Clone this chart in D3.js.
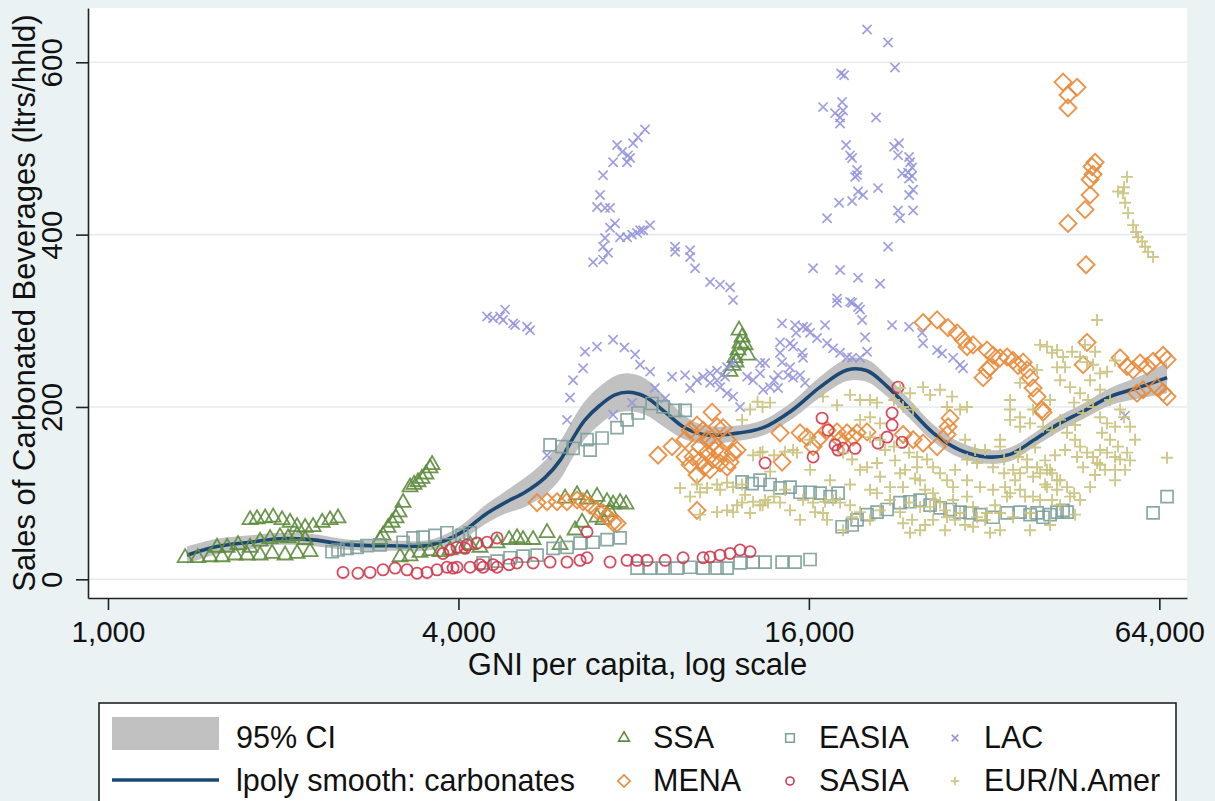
<!DOCTYPE html>
<html><head><meta charset="utf-8">
<script src="https://cdn.jsdelivr.net/npm/d3@7"></script>
<style>html,body{margin:0;padding:0;background:#eaf2f3;} svg{display:block;font-family:"Liberation Sans",Arial,Helvetica,sans-serif;}</style>
</head><body>
<svg id="chart" width="1215" height="801"></svg>
<script>
// ---------------- DATA ----------------
const xTicks = [1000, 4000, 16000, 64000];
const yTicks = [0, 200, 400, 600];
const xTitle = "GNI per capita, log scale";
const yTitle = "Sales of Carbonated Beverages (ltrs/hhld)";

const smoothGNI = [1367,1539,1754,1975,2224,2605,3052,3505,3794,4106,4444,4810,5206,5634,5980,6270,6600,7003,7430,7825,8370,9060,9730,10530,11860,13350,15030,16720,18610,20140,21800,23880,26150,29100,32380,35460,38860,42390,47350,52690,59300,66000];
const smoothFit = [28,38,43,47,46,40,39,39,45,57,75,89,101,118,138,162,185,202,214,217,212,194,177,168,169,176,197,223,243,242,224,197,170,150,142,145,161,178,195,212,223,234];
const ciHalf = [10,9,8,7,7,6,6,6,7,9,11,13,17,20,22,22,22,22,22,22,21,18,14,11,9,9,10,12,13,13,12,11,10,9,8,8,8,9,9,10,13,18];

const SSA = [
[1357,25],[1427,25],[1497,26],[1570,26],[1654,28],[1734,28],[1825,28],[1914,30],[2015,28],[2113,30],[2224,32],
[1539,37],[1602,37],[1673,40],[1754,37],[1825,44],[1899,47],[1975,49],[2039,48],[2113,51],[2181,46],
[1754,69],[1803,70],[1862,71],[1922,72],[1991,69],[2055,66],[2113,61],[2181,60],[2251,61],[2333,66],[2407,69],[2484,71],
[2933,46],[2968,51],[3028,60],[3076,66],[3125,71],[3162,78],[3213,89],[3303,107],[3356,110],[3409,113],[3463,117],[3518,122],[3575,129],[3604,133],
[3175,26],[3303,27],[3436,31],[3575,33],[3719,32],[3869,34],[4026,36],[4188,40],[4357,37],
[4660,42],[4886,46],[5043,48],[5165,46],[5374,46],[5679,54],[5979,40],[6344,57],[6523,66],
[6099,94],[6394,98],[6652,93],[6920,96],[7200,90],[7375,87],[7581,89],[7763,87],[6920,72],[7088,69],[7287,78],
[11714,241],[11855,248],[11948,257],[12089,266],[12187,274],[12285,281],[12138,289],[12431,272],[12577,260],[11995,252]
];
const MENA = [
[5459,89],[5679,90],[5908,90],[6146,90],[6394,92],[6549,90],[6733,86],[6920,80],[7088,77],[7228,72],[7375,66],[7491,65],
[8809,144],[9313,154],[9804,162],[10000,173],[10278,179],[10528,173],[10910,194],[11126,177],[11395,176],[10120,142],[10403,154],[10694,147],[10953,139],[11260,135],[11575,130],[11855,147],[12042,150],[10278,121],[10823,127],[10278,80],[9804,142],[10000,133],[10694,162],[10953,158],[11260,147],[10403,138],[11040,150],[11575,162],[11714,136],[10570,130],
[14276,170],[14390,136],[15451,170],[15884,165],[16268,154],[16590,162],[17191,173],[17885,171],[18607,170],[19358,170],[20139,171],[18100,162],[19057,165],
[23225,168],[24162,162],[25136,158],[26565,154],[27968,187],[27743,177],[27636,168],
[25136,298],[26565,301],[27743,292],[28751,286],[29445,278],[29910,270],[30633,272],[32374,266],[33155,260],[34084,257],[35039,258],[35886,254],[36595,248],[37334,252],[37924,243],[38379,234],[38840,222],[39455,212],[40247,197],[40407,194],[31870,234],[32374,243],[32762,246],
[43733,577],[46218,571],[44598,562],[44598,547],[49633,484],[49049,479],[49243,470],[48660,464],[48660,446],[47708,429],[44598,413],[47896,365],[48080,275],[47335,249],
[54792,257],[56326,247],[57687,243],[59303,251],[60964,247],[62436,253],[64955,260],[65982,255],[58600,216],[60015,220],[63423,223],[64955,217],[65982,212]
];
const EASIA = [
[2426,32],[2484,34],[2574,36],[2678,37],[2786,39],[2933,40],
[3213,43],[3343,48],[3477,49],[3646,51],[3823,54],[4058,51],[4188,54],
[4409,19],[4660,21],[4906,25],[5165,27],[5459,28],[5816,36],[6146,37],[6471,42],[6814,43],[7200,46],[7581,48],
[8108,13],[8536,13],[8988,13],[9498,13],[10000,14],[10530,13],[11126,13],[11575,13],[12187,19],[12831,20],[13454,20],[14390,20],[15149,20],[16075,23],
[5747,156],[6027,154],[6295,152],[6652,162],[6733,150],[7060,164],[7491,176],[7793,185],[8139,193],[8604,204],[8988,200],[9424,196],[9804,196],
[12285,113],[12780,111],[13190,115],[13722,110],[14276,106],[14852,107],[15451,101],[16075,101],[16723,100],[17398,96],[17955,100],
[18245,61],[18982,63],[19358,69],[20139,75],[20952,78],[21797,81],[22949,89],[23875,90],[24838,92],[25841,86],[26883,83],[27968,81],[29096,78],[30270,77],[31492,75],[33155,72],[35039,77],[36891,78],[38379,75],[39455,77],[40407,72],[41539,75],[42703,78],[43733,80],[44425,78],
[62436,77],[65982,96]
];
const SASIA = [
[2534,8],[2688,7],[2820,8],[2968,11],[3113,13],[3264,11],[3396,7],[3532,8],[3675,11],[3823,14],[3977,14],[4188,14],[4409,14],[4660,14],
[3763,30],[3869,34],[3977,37],[4139,40],[4305,42],[4479,43],[4660,48],[4106,36],
[3915,13],[4357,17],[4587,17],[4886,17],[5043,19],[5374,19],[5747,20],[6146,20],[6471,22],[6652,25],[7287,20],[7793,22],[8108,22],[8435,22],[9059,22],[9727,25],[10530,25],[10823,26],[11260,28],[11714,30],[12187,34],[12679,32],
[6652,55],[13454,135],[16268,142],[16857,187],[17258,173],[17746,156],[17955,150],[18318,152],[19207,152],[21033,158],[21797,165],[22235,179],[22235,193],[22765,223],[23133,159]
];
const LAC = [
[4479,305],[4587,303],[4716,305],[4810,313],[4773,301],[4965,297],[5004,295],[5247,293],[5310,289],
[8369,522],[8139,513],[7982,506],[7491,504],[7642,496],[7823,492],[7375,484],[7793,484],[7887,489],[7088,469],[7004,446],[6920,432],[7144,431],[7287,431],[7430,413],[7287,408],[7144,396],[7088,386],[7229,379],[7088,371],[6814,368],[7581,397],[7793,397],[7950,400],[8108,402],[8205,405],[8304,405],[8536,411],
[9424,386],[9424,380],[10000,382],[10000,374],[10200,361],[10823,345],[11260,342],[11714,339],[11855,324],
[6600,264],[6920,270],[7375,278],[7713,269],[8046,261],[8205,249],[8536,241],[6549,245],[6295,231],[6220,211],[6146,185],[5679,144],[7375,191],[7950,205],[8700,222],[9060,210],[9313,235],[9804,237],[10000,222],[10278,231],[10528,235],[10823,239],[11126,242],[11575,246],[11855,251],[10823,228],[11260,223],[11575,216],[11855,212],[12187,200],[12530,235],[12830,231],[13190,251],[11485,235],[11126,231],
[14390,297],[15149,295],[15636,293],[15884,292],[15210,286],[16075,286],[16525,280],[17058,295],[17191,274],[17607,268],[18100,263],[18607,258],[18982,257],[19590,257],[19747,301],[19590,313],[17885,321],[18982,321],[19982,281],[20139,264],[22235,295],[23780,293],[25037,286],[25136,274],[26565,266],[27098,262],[28303,257],[29096,249],[29445,245],
[14276,275],[14852,274],[15030,270],[15575,263],[15636,257],[14276,263],[14390,252],[14852,246],[14164,237],[14733,237],[15030,234],[15451,237],[13944,231],[13722,223],[14164,222],[13350,220],[13454,251],[13190,239],[15760,228],
[20139,638],[21882,623],[18172,587],[18390,585],[16924,548],[18245,554],[17746,541],[18100,536],[18100,529],[18318,544],[20870,536],[18534,504],[18831,492],[18982,489],[19358,475],[19358,469],[19207,467],[19436,450],[19822,446],[18028,437],[18982,439],[21033,454],[17191,419],[22490,594],[22857,506],[22414,502],[22765,492],[23780,490],[23875,484],[24066,478],[23685,472],[23133,471],[24066,468],[23780,465],[23780,446],[24162,452],[22765,428],[22949,419],[24162,428],[21882,386],[16268,361],[18100,359],[19436,350],[21203,343],[17885,326],[18831,322],[19436,316],
[55888,190]
];
const EUR = [
[9612,106],[10278,110],[10694,106],[11126,110],[11575,112],[11855,107],[12285,110],[12830,144],[13190,147],[12285,185],[12679,197],[13060,206],[11126,78],[11575,80],[12042,86],[12285,89],[12830,90],[13190,86],[13610,89],[11855,78],[12679,77],[10000,96],[10403,75],
[13320,148],[13944,144],[14560,148],[15030,150],[15267,147],[13454,92],[13944,96],[14276,89],[13320,86],[15636,92],[16268,89],[17058,90],[17607,92],[18100,89],[16924,77],[17191,69],[18318,57],[18982,72],
[16924,212],[17885,202],[18831,214],[19590,208],[20381,208],[20952,205],[22949,222],[23875,216],[25136,223],[25841,214],[26883,220],[28192,212],[27636,200],[29096,197],[29910,200],[22414,208],[23225,200],[24162,197],[19590,185],[20381,188],[21203,181],
[20381,165],[21203,162],[22414,154],[23780,147],[24545,142],[25530,139],[26150,130],[26883,123],[27636,115],[28303,107],[19590,127],[20952,135],[22949,123],[24545,130],[23225,107],[24838,115],[26150,100],
[23780,89],[24838,84],[25841,84],[26883,89],[28303,92],[29910,96],[30633,84],[31117,72],[32374,77],[29096,77],[27636,72],[26150,69],[24838,57],[23875,54],[23225,65],
[29910,139],[31117,135],[33155,130],[34630,139],[35886,127],[37924,130],[39928,123],[41539,127],[42703,115],[35460,185],[36891,177],[38840,197],[41040,270],[41870,263],[42703,246],
[29910,115],[31492,107],[33155,104],[35039,96],[36891,104],[38840,96],[41040,107],[41870,92],[13320,200],[13722,205],[18318,147],[18982,139],[20139,130],[21203,119],[22059,107],[20952,100],[30633,61],[32762,54],[34084,57],
[32122,150],[34084,154],[36891,148],[16075,162],
[50017,301],[42703,266],[43733,258],[45320,264],[46773,258],[48083,252],[49243,249],[50624,239],[52042,241],
[43215,231],[44959,223],[46773,216],[48270,208],[49243,200],[47335,193],[45680,205],
[35460,197],[36891,188],[38379,181],[40407,177],[41870,173],[44425,170],
[50624,188],[52042,181],[53726,177],[51020,170],[52666,162],[54353,154],[50624,150],[52042,147],[53726,142],[54792,139],[56326,147],[57003,177],[55660,188],
[46773,154],[48083,147],[49243,142],[50040,135],[46218,142],[47335,130],
[36595,142],[37924,139],[39455,130],[41040,127],[41870,123],[43215,115],[44425,107],[45680,100],[46773,92],[36891,123],[38840,119],[40731,110],[42703,104],[34630,123],[35460,100],[34084,77],[35886,72],[38379,77],
[65982,141],[39455,243],[36891,228],[35460,208],
[56326,467],[55660,455],[54353,450],[55440,448],[55888,437],[56550,425],[57687,411],[58370,403],[58830,397],[59780,392],[60490,386],[61210,380],[62436,374],
[21627,150],[22500,138],[23408,127],[24352,117],[25335,104],[26357,92],[27420,80],[28527,69],[22059,92],[22949,78],[24066,69],[25335,63],[27420,57],[29680,63],[32122,69],[33420,86],[34770,107],[36170,115],[37630,96],[39928,92],[43215,86],[44959,96],[48660,107],[49633,121],[51640,127],[53720,115],[55890,127],[58140,162],[57003,138],[53720,127],[50624,133],[44080,150],[45860,162],[42370,144],[40730,138],[39150,153],[43215,185],[45860,179],[41539,208],[48660,231],[50624,220],[52666,208],[54792,197],[44080,246],[47700,272],[49640,264],[53720,254],[39928,272],
[14852,80],[15451,69],[16400,78],[18831,86],[19590,78],[20381,69],[21203,80],[14560,104],[10403,101],[11260,104],[12431,98],[13722,125],[16075,127],[17398,115],[18831,110],[20381,104],[28527,127],[29680,162],[30880,150],[34084,162],[38379,57],[41539,63],[45860,75]
];

const seriesInfo = [
  {name:"SSA",        data:SSA,   shape:"tri",     color:"#5e8c3e"},
  {name:"MENA",       data:MENA,  shape:"diamond", color:"#e8893a"},
  {name:"EASIA",      data:EASIA, shape:"square",  color:"#7c9f98"},
  {name:"SASIA",      data:SASIA, shape:"circle",  color:"#d2384f"},
  {name:"LAC",        data:LAC,   shape:"x",       color:"#9595dc"},
  {name:"EUR/N.Amer", data:EUR,   shape:"plus",    color:"#c9c37d"}
];

// ---------------- DRAW ----------------
const svg = d3.select("#chart");
const W = 1215, H = 801;
const x = d3.scaleLog().domain([924, 71400]).range([88, 1187]);
const y = d3.scaleLinear().domain([-21.7, 663]).range([598, 8]);

svg.append("rect").attr("width", W).attr("height", H).attr("fill", "#eaf2f3");
svg.append("rect").attr("x", x.range()[0]).attr("y", y.range()[1])
  .attr("width", x.range()[1]-x.range()[0]).attr("height", y.range()[0]-y.range()[1]).attr("fill", "#ffffff");

// grid
svg.append("g").selectAll("line").data(yTicks).join("line")
  .attr("x1", x.range()[0]).attr("x2", x.range()[1])
  .attr("y1", d=>y(d)).attr("y2", d=>y(d))
  .attr("stroke", "#e4ecee").attr("stroke-width", 1.6);

// CI band and smooth line
const sm = smoothGNI.map((g,i)=>({g, f:smoothFit[i], h:ciHalf[i]}));
svg.append("path").datum(sm)
  .attr("d", d3.area().x(d=>x(d.g)).y0(d=>y(d.f-d.h)).y1(d=>y(d.f+d.h)).curve(d3.curveCatmullRom))
  .attr("fill", "#c1c1c1");
svg.append("path").datum(sm)
  .attr("d", d3.line().x(d=>x(d.g)).y(d=>y(d.f)).curve(d3.curveCatmullRom))
  .attr("fill", "none").attr("stroke", "#1c4874").attr("stroke-width", 3.6);

// marker shapes
function shapePath(shape, s) {
  switch(shape) {
    case "tri": { const a=15*s, h=a*0.866; return `M0,${-h*2/3}L${a/2},${h/3}L${-a/2},${h/3}Z`; }
    case "square": { const r=6*s; return `M${-r},${-r}H${r}V${r}H${-r}Z`; }
    case "diamond": { const r=8.5*s; return `M0,${-r}L${r},0L0,${r}L${-r},0Z`; }
    case "circle": { const r=5.6*s; return `M${r},0A${r},${r} 0 1,1 ${-r},0A${r},${r} 0 1,1 ${r},0Z`; }
    case "x": { const r=4.6*s; return `M${-r},${-r}L${r},${r}M${-r},${r}L${r},${-r}`; }
    case "plus": { const r=6*s; return `M${-r},0H${r}M0,${-r}V${r}`; }
  }
}
const swidth = {tri:1.8, square:1.7, diamond:1.9, circle:1.8, x:1.7, plus:1.9};

const plotG = svg.append("g");
seriesInfo.forEach(si => {
  plotG.append("g").selectAll("path").data(si.data).join("path")
    .attr("transform", d=>`translate(${x(d[0])},${y(d[1])})`)
    .attr("d", shapePath(si.shape, 1))
    .attr("fill", "none").attr("stroke", si.color)
    .attr("stroke-width", swidth[si.shape]).attr("stroke-opacity", 0.9);
});

// axes
const axisColor = "#222";
const yAxis = svg.append("g").attr("transform", `translate(${x.range()[0]},0)`)
  .call(d3.axisLeft(y).tickValues(yTicks).tickSize(12).tickSizeOuter(0).tickFormat(d3.format("d")));
const xAxis = svg.append("g").attr("transform", `translate(0,${y.range()[0]})`)
  .call(d3.axisBottom(x).tickValues(xTicks).tickSize(12).tickSizeOuter(0).tickFormat(d3.format(",")));
[yAxis, xAxis].forEach(a => {
  a.select(".domain").attr("stroke", axisColor).attr("stroke-width", 1.6);
  a.selectAll(".tick line").attr("stroke", axisColor).attr("stroke-width", 1.6);
  a.selectAll("text").attr("fill", "#111").style("font-size", "29.5px")
    .style("font-family", '"Liberation Sans", Arial, Helvetica, sans-serif');
});
yAxis.selectAll(".tick text").attr("transform", "rotate(-90)")
  .attr("x", 0).attr("y", -26).attr("dy", 0).attr("text-anchor", "middle");
xAxis.selectAll(".tick text").attr("y", 44).attr("dy", 0).attr("text-anchor", "middle");

// titles
svg.append("text").attr("x", (x.range()[0]+x.range()[1])/2).attr("y", 675)
  .attr("text-anchor", "middle").style("font-size", "31px").attr("fill", "#111").text(xTitle);
svg.append("text").attr("transform", `translate(35,${(y.range()[0]+y.range()[1])/2}) rotate(-90)`)
  .attr("text-anchor", "middle").style("font-size", "31px").attr("fill", "#111").text(yTitle);

// legend
const lg = svg.append("g");
lg.append("rect").attr("x", 99).attr("y", 703).attr("width", 1077).attr("height", 120)
  .attr("fill", "#fff").attr("stroke", "#222").attr("stroke-width", 1.6);
lg.append("rect").attr("x", 112).attr("y", 717).attr("width", 107).attr("height", 33).attr("fill", "#c1c1c1");
lg.append("line").attr("x1", 112).attr("x2", 219).attr("y1", 780).attr("y2", 780)
  .attr("stroke", "#1c4874").attr("stroke-width", 3.6);
const legFont = "30.5px";
lg.append("text").attr("x", 236).attr("y", 748).style("font-size", legFont).attr("fill", "#111").text("95% CI");
lg.append("text").attr("x", 236).attr("y", 791).style("font-size", legFont).attr("fill", "#111").text("lpoly smooth: carbonates");
const legPos = {
  "SSA":[624,738,653,748], "EASIA":[790,738,819,748], "LAC":[955,738,984,748],
  "MENA":[624,781,653,791], "SASIA":[790,781,819,791], "EUR/N.Amer":[955,781,984,791]
};
seriesInfo.forEach(si => {
  const p = legPos[si.name];
  lg.append("path").attr("transform", `translate(${p[0]},${p[1]})`)
    .attr("d", shapePath(si.shape, 0.72)).attr("fill", "none")
    .attr("stroke", si.color).attr("stroke-width", 1.6);
  lg.append("text").attr("x", p[2]).attr("y", p[3]).style("font-size", legFont).attr("fill", "#111").text(si.name);
});
</script>
</body></html>
